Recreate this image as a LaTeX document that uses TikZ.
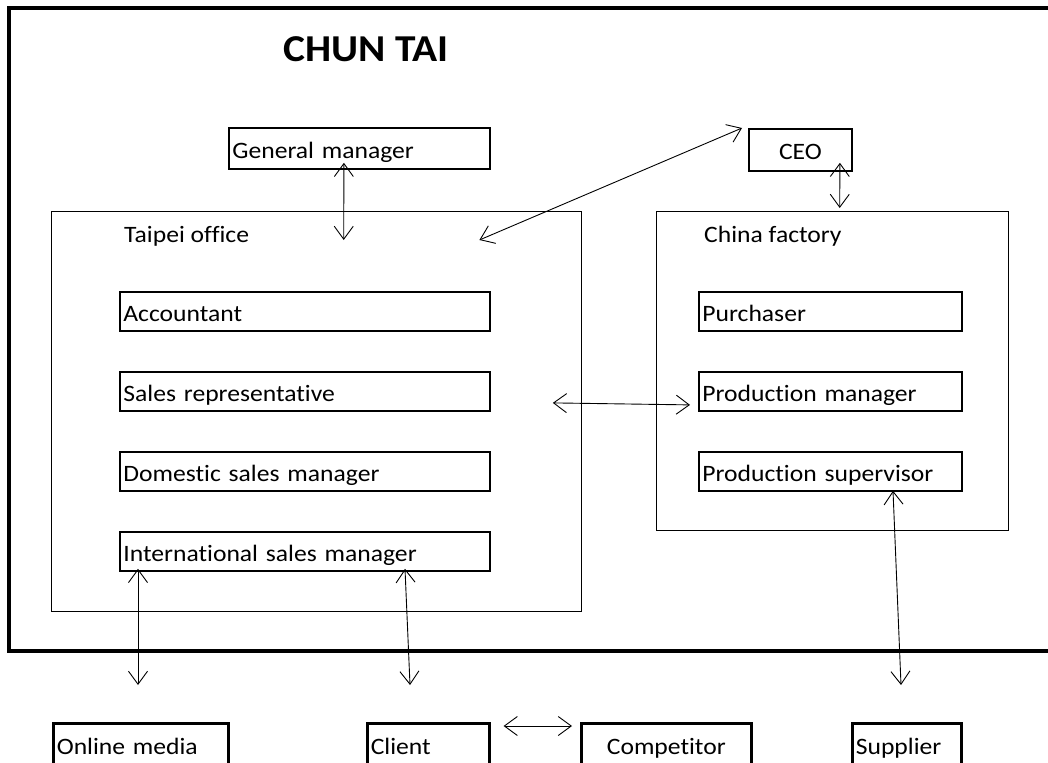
\documentclass[tikz,border=0pt]{standalone}
\usepackage{fontspec}
\setmainfont{Carlito}[FakeStretch=1.09,RawFeature=-liga]
\usetikzlibrary{arrows.meta}
\tikzset{
  box/.style={draw, line width=1.8pt, anchor=north west, inner xsep=3.5pt, inner ysep=0pt,
    font=\fontsize{23.5}{28}\selectfont, align=left, text height=21pt, text depth=1pt},
  frame/.style={draw, line width=1.4pt, anchor=north west, inner sep=0pt},
  lbl/.style={anchor=base west, inner sep=0pt, font=\fontsize{23.5}{28}\selectfont},
  outbox/.style={box, line width=2.6pt, text height=15pt, text depth=1pt},
  dbl/.style={{Straight Barb[length=13pt,width=19pt]}-{Straight Barb[length=13pt,width=19pt]}, line width=0.9pt},
}
\begin{document}
\begin{tikzpicture}[x=1pt,y=1pt]
\useasboundingbox (0,0) rectangle (1048,-762);
% outer frame
\draw[line width=3.5pt] (9,-8) rectangle (1070,-651);
\node[font=\bfseries\fontsize{38}{44}\selectfont, inner sep=0pt, anchor=base] (title) at (366,-62) {CHUN TAI};

\node[box, minimum width=261pt, minimum height=41pt, text width=254pt] (gm) at (228,-127) {General manager};
\node[box, minimum width=103pt, minimum height=42pt, text width=96pt, align=center] (ceo) at (748,-128) {CEO};

\node[frame, minimum width=530pt, minimum height=400pt] (taipei) at (51,-211) {};
\node[lbl] (taipeilbl) at (124,-242) {Taipei office};
\node[frame, minimum width=352pt, minimum height=319pt] (china) at (656,-211) {};
\node[lbl] (chinalbl) at (704,-242) {China factory};

\node[box, minimum width=370pt, minimum height=39pt, text width=363pt] (acc) at (119,-291) {Accountant};
\node[box, minimum width=370pt, minimum height=39pt, text width=363pt] (sales) at (119,-371) {Sales representative};
\node[box, minimum width=370pt, minimum height=39pt, text width=363pt] (dom) at (119,-451) {Domestic sales manager};
\node[box, minimum width=370pt, minimum height=39pt, text width=363pt] (intl) at (119,-531) {International sales manager};

\node[box, minimum width=263pt, minimum height=39pt, text width=256pt] (purch) at (698,-291) {Purchaser};
\node[box, minimum width=263pt, minimum height=39pt, text width=256pt] (prodm) at (698,-371) {Production manager};
\node[box, minimum width=263pt, minimum height=39pt, text width=256pt] (prods) at (698,-451) {Production supervisor};

\node[outbox, minimum width=175pt, minimum height=48pt, text width=168pt] (online) at (52,-722) {Online media};
\node[outbox, minimum width=122pt, minimum height=48pt, text width=115pt] (client) at (366,-722) {Client};
\node[outbox, minimum width=170pt, minimum height=48pt, text width=163pt, align=center] (comp) at (580,-722) {Competitor};
\node[outbox, minimum width=109pt, minimum height=48pt, text width=102pt] (supp) at (851,-722) {Supplier};

% connectors
\draw[dbl] ([shift={(-15.5,7)}]gm.south) -- ([shift={(27,-29)}]taipei.north);
\draw[dbl] ([shift={(-6,0)}]ceo.north west) -- ([shift={(-103,-29)}]taipei.north east);
\draw[dbl] ([shift={(39.5,9)}]ceo.south) -- ([shift={(7,3)}]china.north);
\draw[dbl] ([shift={(62,-11.5)}]sales.east) -- ([shift={(-8,-13.5)}]prodm.west);
\draw[dbl] ([shift={(19,3)}]intl.south west) -- ([shift={(86,37)}]online.north west);
\draw[dbl] ([shift={(286,3)}]intl.south west) -- ([shift={(44,37)}]client.north west);
\draw[dbl] ([shift={(195,1)}]prods.south west) -- ([shift={(50,37)}]supp.north west);
\draw[dbl] ([shift={(13,-4)}]client.north east) -- ([shift={(-8,-4)}]comp.north west);
\end{tikzpicture}
\end{document}
